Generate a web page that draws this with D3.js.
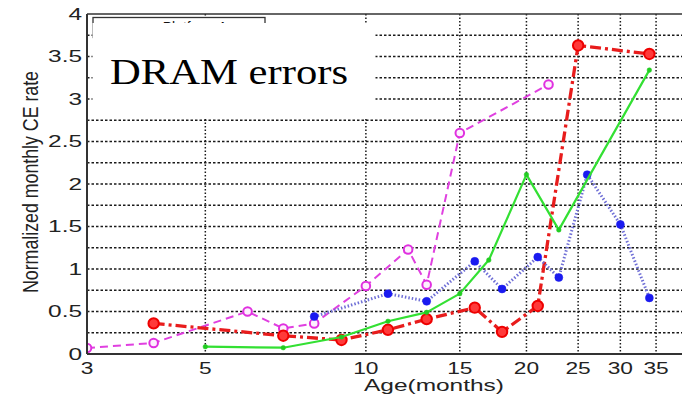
<!DOCTYPE html>
<html><head><meta charset="utf-8">
<script src="https://cdn.jsdelivr.net/npm/d3@7"></script>
<style>body{margin:0;background:#fff}svg{display:block}</style>
</head><body>
<svg id="c" width="682" height="397"></svg>
<script>
// ---- data ----
const xTicks = [3, 5, 10, 15, 20, 25, 30, 35];
const yTicks = [0, 0.5, 1, 1.5, 2, 2.5, 3, 3.5, 4];
const yGrid = [0.25, 0.5, 0.75, 1, 1.25, 1.5, 1.75, 2, 2.25, 2.5, 2.75, 3, 3.25, 3.5, 3.75];

const magentaX = [3, 4, 6, 7, 8, 10, 12, 13, 15, 22];
const magentaY = [0.07, 0.13, 0.50, 0.30, 0.36, 0.80, 1.23, 0.815, 2.60, 3.17];
const redX = [4, 7, 9, 11, 13, 16, 18, 21, 25, 34];
const redY = [0.36, 0.215, 0.165, 0.285, 0.41, 0.545, 0.26, 0.565, 3.63, 3.53];
const blueX = [8, 11, 13, 16, 18, 21, 23, 26, 30, 34];
const blueY = [0.44, 0.71, 0.62, 1.09, 0.765, 1.14, 0.90, 2.11, 1.525, 0.66];
const greenX = [5, 7, 9, 11, 13, 15, 17, 20, 23, 34];
const greenY = [0.086, 0.074, 0.20, 0.385, 0.49, 0.71, 1.105, 2.11, 1.46, 3.34];

const xLabel = "Age(months)";
const yLabel = "Normalized monthly CE rate";
const title = "DRAM errors";
const legendHint = "Platform A";

// ---- layout ----
const svg = d3.select("#c");
const L = 87, T = 14, B = 354, R = 687;
const x = d3.scaleLog().domain([3, 40]).range([L, R]);
const y = d3.scaleLinear().domain([0, 4]).range([B, T]);
const FONT = "'Liberation Sans', Arial, sans-serif";

function stretch(sel, k) {
  sel.each(function () {
    const n = this.getComputedTextLength();
    d3.select(this).attr("textLength", n * k).attr("lengthAdjust", "spacingAndGlyphs");
  });
}

svg.append("defs").append("clipPath").attr("id", "pc")
  .append("rect").attr("x", L).attr("y", T - 1).attr("width", R - L).attr("height", B - T + 2);

const g = svg.append("g");

// grid
g.append("g").selectAll("line").data(yGrid).join("line")
  .attr("x1", L).attr("x2", 682).attr("y1", d => y(d)).attr("y2", d => y(d))
  .attr("stroke", "#1a1a1a").attr("stroke-width", 1.5).attr("stroke-dasharray", "2.5,2");
g.append("g").selectAll("line").data(xTicks.slice(1)).join("line")
  .attr("x1", d => x(d)).attr("x2", d => x(d)).attr("y1", T).attr("y2", B)
  .attr("stroke", "#1a1a1a").attr("stroke-width", 1.5).attr("stroke-dasharray", "1.5,2");

// legend remnant + white title box
g.append("rect").attr("x", 93).attr("y", 17.5).attr("width", 172).attr("height", 20)
  .attr("fill", "#fff").attr("stroke", "#333").attr("stroke-width", 1.3);
g.append("text").attr("x", 195).attr("y", 32).attr("text-anchor", "middle")
  .attr("font-family", FONT).attr("font-size", 14).attr("fill", "#111").text(legendHint);
g.append("rect").attr("x", 92.5).attr("y", 23).attr("width", 283).attr("height", 96).attr("fill", "#fff");
g.append("text").attr("x", 110).attr("y", 83.5).attr("font-family", "'Liberation Serif', 'Times New Roman', serif")
  .attr("font-size", 35).attr("fill", "#000").text(title)
  .attr("textLength", 238).attr("lengthAdjust", "spacingAndGlyphs");

// series
const plot = svg.append("g").attr("clip-path", "url(#pc)");
function pts(xs, ys) { return xs.map((v, i) => [v, ys[i]]); }
const line = d3.line().x(d => x(d[0])).y(d => y(d[1]));

const series = [
  { xs: magentaX, ys: magentaY, stroke: "#e040e0", w: 2, dash: "8,5", r: 4.3, mfill: "#fdf0fd", mstroke: "#e030e0", mw: 2 },
  { xs: redX, ys: redY, stroke: "#e81c1c", w: 3.3, dash: "11,4,3,4", r: 5.2, mfill: "#ff3a3a", mstroke: "#e00", mw: 2 },
  { xs: blueX, ys: blueY, stroke: "#6f6fd6", w: 3, dash: "1.5,2", r: 4, mfill: "#1a1af0", mstroke: "#1a1af0", mw: 0.5 },
  { xs: greenX, ys: greenY, stroke: "#33e033", w: 2.2, dash: null, r: 2.3, mfill: "#22cc22", mstroke: "#22cc22", mw: 0.5 }
];
series.forEach(s => {
  const d = pts(s.xs, s.ys);
  plot.append("path").datum(d).attr("d", line).attr("fill", "none")
    .attr("stroke", s.stroke).attr("stroke-width", s.w)
    .attr("stroke-dasharray", s.dash).attr("stroke-linejoin", "round");
  plot.append("g").selectAll("circle").data(d).join("circle")
    .attr("cx", p => x(p[0])).attr("cy", p => y(p[1])).attr("r", s.r)
    .attr("fill", s.mfill).attr("stroke", s.mstroke).attr("stroke-width", s.mw);
});

// axes frame
svg.append("line").attr("x1", L).attr("x2", 682).attr("y1", T).attr("y2", T).attr("stroke", "#333").attr("stroke-width", 1.5);
svg.append("line").attr("x1", L).attr("x2", 682).attr("y1", B).attr("y2", B).attr("stroke", "#333").attr("stroke-width", 2);
svg.append("line").attr("x1", L).attr("x2", L).attr("y1", T).attr("y2", B).attr("stroke", "#333").attr("stroke-width", 2);

// tick labels
const xa = svg.append("g").selectAll("text").data(xTicks).join("text")
  .attr("x", d => x(d)).attr("y", 373.5).attr("text-anchor", "middle")
  .attr("font-family", FONT).attr("font-size", 16).attr("fill", "#222").text(d => d);
stretch(xa, 1.42);
const ya = svg.append("g").selectAll("text").data(yTicks).join("text")
  .attr("x", 82).attr("y", d => y(d) + 5.8).attr("text-anchor", "end")
  .attr("font-family", FONT).attr("font-size", 16.5).attr("fill", "#222").text(d => d);
stretch(ya, 1.48);

// axis titles
svg.append("text").attr("x", 434).attr("y", 391).attr("text-anchor", "middle")
  .attr("font-family", FONT).attr("font-size", 17).attr("fill", "#222").text(xLabel)
  .attr("textLength", 140).attr("lengthAdjust", "spacingAndGlyphs");
svg.append("g").attr("transform", "translate(38,182) rotate(-90) scale(1,1.3)")
  .append("text").attr("x", 0).attr("y", 0).attr("text-anchor", "middle")
  .attr("font-family", FONT).attr("font-size", 17).attr("fill", "#222").text(yLabel)
  .attr("textLength", 222).attr("lengthAdjust", "spacingAndGlyphs");
</script>
</body></html>
